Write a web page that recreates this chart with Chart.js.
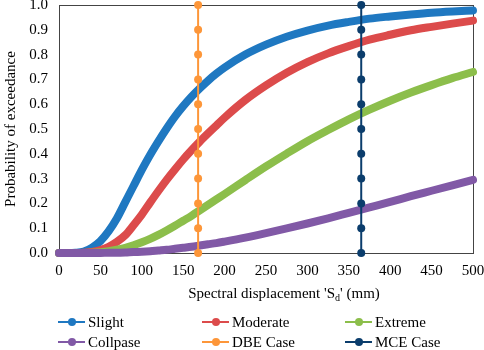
<!DOCTYPE html>
<html>
<head>
<meta charset="utf-8">
<script src="https://cdn.jsdelivr.net/npm/chart.js@4.4.1/dist/chart.umd.min.js"></script>
<style>
  html, body { margin: 0; padding: 0; background: #fff; }
  #wrap { position: relative; width: 484px; height: 350px; }
  #legend { position: absolute; left: 0; top: 0; width: 484px; height: 350px; pointer-events: none;
            font-family: "Liberation Serif", "Times New Roman", serif; font-size: 15px; color: #000; }
  .item { position: absolute; height: 18px; line-height: 18px; white-space: nowrap; }
  .mk { position: absolute; left: 0; top: 8px; width: 27px; height: 2px; }
  .dot { position: absolute; left: 9.5px; top: -3px; width: 8px; height: 8px; border-radius: 50%; }
  .lbl { position: absolute; left: 30px; top: 0; }
</style>
</head>
<body>
<div id="wrap">
  <canvas id="c" width="484" height="350"></canvas>
  <div id="legend"></div>
</div>
<script>
const xValues  = [0,10,20,30,40,50,60,70,80,90,100,110,120,130,140,150,160,170,180,190,200,225,250,275,300,325,350,375,400,425,450,475,500];
const slight   = [0,0,0.001,0.006,0.022,0.048,0.088,0.14,0.205,0.27,0.335,0.395,0.45,0.502,0.55,0.592,0.63,0.664,0.695,0.723,0.748,0.80,0.84,0.872,0.897,0.917,0.932,0.945,0.954,0.962,0.969,0.974,0.978];
const moderate = [0,0,0,0.001,0.004,0.012,0.025,0.045,0.072,0.112,0.155,0.203,0.25,0.295,0.337,0.377,0.414,0.449,0.482,0.514,0.546,0.617,0.676,0.727,0.77,0.805,0.834,0.86,0.88,0.898,0.912,0.925,0.937];
const extreme  = [0,0,0,0,0.001,0.003,0.007,0.013,0.021,0.031,0.043,0.057,0.073,0.091,0.11,0.13,0.15,0.172,0.194,0.216,0.238,0.294,0.349,0.401,0.451,0.496,0.539,0.578,0.614,0.647,0.677,0.705,0.73];
const collapse = [0,0,0,0,0,0,0.001,0.001,0.002,0.004,0.005,0.007,0.01,0.013,0.017,0.021,0.025,0.03,0.035,0.04,0.046,0.062,0.08,0.099,0.119,0.14,0.162,0.184,0.206,0.229,0.251,0.273,0.295];
const caseY    = [0,0.1,0.2,0.3,0.4,0.5,0.6,0.7,0.8,0.9,1.0];
const dbeX     = 168;
const mceX     = 365;
const seriesNames = ["Slight","Moderate","Extreme","Collpase","DBE Case","MCE Case"];
const colors = ["#1f78c1","#dc4b4b","#8cbe4b","#8159a6","#fd9639","#0b3d6c"];

const FONT = "'Liberation Serif', 'Times New Roman', serif";
Chart.defaults.font.family = FONT;

function curve(name, ys, color, order) {
  return {
    label: name,
    data: xValues.map((x, i) => ({ x: x, y: ys[i] })),
    borderColor: color, backgroundColor: color,
    borderWidth: 8, pointRadius: 0, borderCapStyle: 'round', borderJoinStyle: 'round',
    cubicInterpolationMode: 'monotone', clip: false, order: order
  };
}
function vcase(name, x, color, order) {
  return {
    label: name,
    data: caseY.map(y => ({ x: x, y: y })),
    borderColor: color, backgroundColor: color,
    borderWidth: 2, pointRadius: 4, pointBorderWidth: 0, pointBackgroundColor: color,
    clip: false, order: order
  };
}

const boxPlugin = {
  id: 'box',
  beforeDatasetsDraw(chart) {
    const a = chart.chartArea, ctx = chart.ctx;
    ctx.save();
    ctx.strokeStyle = '#444'; ctx.lineWidth = 1;
    ctx.strokeRect(Math.round(a.left) + 0.5, Math.round(a.top) + 0.5, Math.round(a.right - a.left), Math.round(a.bottom - a.top));
    ctx.restore();
  },
  afterDraw(chart) {
    const ctx = chart.ctx;
    ctx.save();
    ctx.fillStyle = '#000';
    ctx.textBaseline = 'alphabetic';
    const p1 = "Spectral displacement 'S", sub = "d", p2 = "' (mm)";
    ctx.font = "15px " + FONT; const w1 = ctx.measureText(p1).width, w3 = ctx.measureText(p2).width;
    ctx.font = "10px " + FONT; const w2 = ctx.measureText(sub).width;
    const total = w1 + w2 + w3;
    let x = 284 - total / 2; const y = 298;
    ctx.textAlign = 'left';
    ctx.font = "15px " + FONT; ctx.fillText(p1, x, y); x += w1;
    ctx.font = "10px " + FONT; ctx.fillText(sub, x, y + 3); x += w2;
    ctx.font = "15px " + FONT; ctx.fillText(p2, x, y);
    ctx.restore();
  }
};

new Chart(document.getElementById('c'), {
  type: 'line',
  data: {
    datasets: [
      curve(seriesNames[0], slight, colors[0], 5),
      curve(seriesNames[1], moderate, colors[1], 4),
      curve(seriesNames[2], extreme, colors[2], 3),
      curve(seriesNames[3], collapse, colors[3], 2),
      vcase(seriesNames[4], dbeX, colors[4], 1),
      vcase(seriesNames[5], mceX, colors[5], 0)
    ]
  },
  options: {
    responsive: false, animation: false,
    layout: { padding: { top: 5, right: 11, bottom: 0, left: 0 } },
    plugins: { legend: { display: false }, tooltip: { enabled: false } },
    scales: {
      x: {
        type: 'linear', min: 0, max: 500,
        ticks: { stepSize: 50, color: '#000', font: { family: FONT, size: 15 }, padding: 9, maxRotation: 0 },
        grid: { display: false, drawTicks: false },
        border: { display: true, color: '#444', width: 1 },
        afterFit(s) { s.height = 97; s.paddingLeft = 0; s.paddingRight = 0; }
      },
      y: {
        min: 0, max: 1,
        ticks: { stepSize: 0.1, color: '#000', font: { family: FONT, size: 15 }, padding: 11,
                 callback: v => Number(v).toFixed(1) },
        grid: { display: false, drawTicks: false },
        border: { display: true, color: '#444', width: 1 },
        title: { display: true, text: 'Probability of exceedance', color: '#000', font: { family: FONT, size: 15 }, padding: 2 },
        afterFit(s) { s.width = 59; s.paddingTop = 0; s.paddingBottom = 0; }
      }
    }
  },
  plugins: [boxPlugin]
});

// HTML legend, three columns by two rows
const legendPos = [[58,313],[202,313],[345,313],[58,333],[202,333],[345,333]];
const lg = document.getElementById('legend');
seriesNames.forEach((n, i) => {
  const it = document.createElement('div');
  it.className = 'item';
  it.style.left = legendPos[i][0] + 'px';
  it.style.top = legendPos[i][1] + 'px';
  it.innerHTML = '<div class="mk" style="background:' + colors[i] + '"><div class="dot" style="background:' + colors[i] + '"></div></div><span class="lbl">' + n + '</span>';
  lg.appendChild(it);
});
</script>
</body>
</html>
